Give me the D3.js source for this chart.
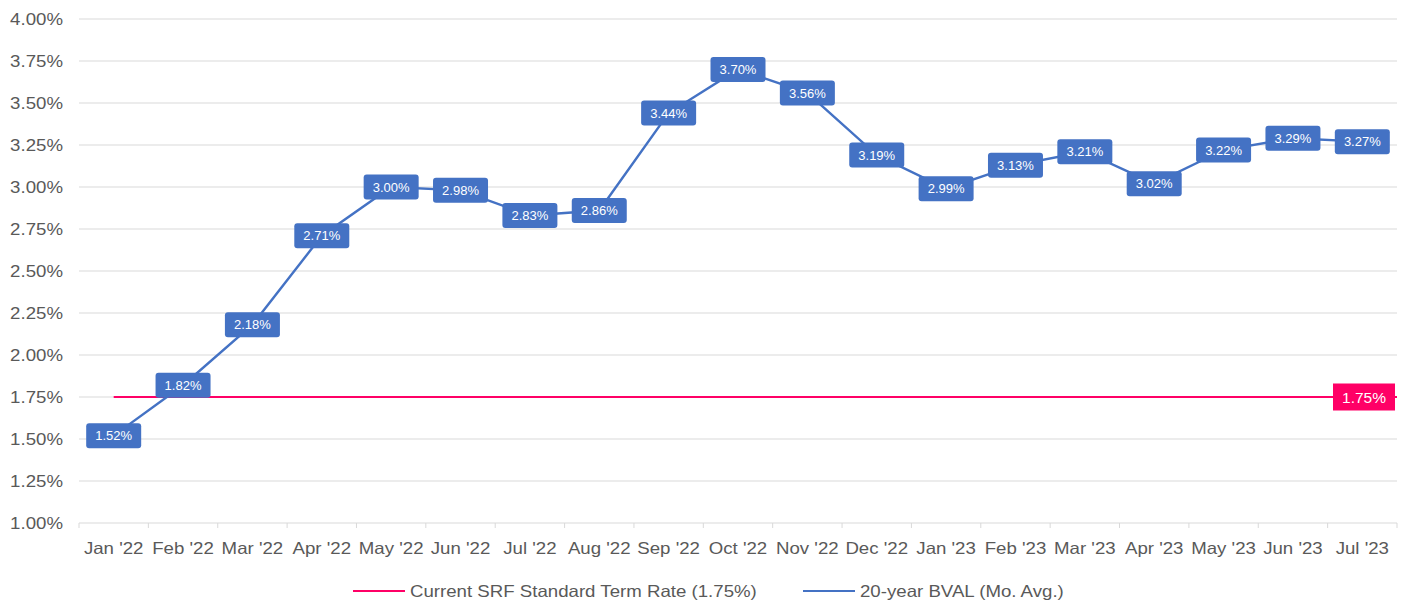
<!DOCTYPE html>
<html>
  <head>
    <meta charset="utf-8" />
    <script src="https://d3js.org/d3.v7.min.js"></script>
    <style>
        body {margin: 0; background: #fff;}
        text {font-family: "Liberation Sans", Arial, sans-serif;}
    </style>
  </head>
  <body>
    <svg id="viz"></svg>
    <script>
        // chart values
        var months = ["Jan '22","Feb '22","Mar '22","Apr '22","May '22","Jun '22","Jul '22","Aug '22","Sep '22","Oct '22","Nov '22","Dec '22",
                      "Jan '23","Feb '23","Mar '23","Apr '23","May '23","Jun '23","Jul '23"];
        var bval = [1.52,1.82,2.18,2.71,3.00,2.98,2.83,2.86,3.44,3.70,3.56,3.19,2.99,3.13,3.21,3.02,3.22,3.29,3.27];
        var srfRate = 1.75;
        var yTicks = [1.00,1.25,1.50,1.75,2.00,2.25,2.50,2.75,3.00,3.25,3.50,3.75,4.00];
        var seriesNames = ["Current SRF Standard Term Rate (1.75%)", "20-year BVAL (Mo. Avg.)"];

        var width = 1403, height = 603;
        var margin = {left: 79, right: 6, top: 19, bottom: 80};
        var blue = "#4472C4", pink = "#FF0066";
        var axisFont = 16.5, stretch = 1.13;

        var svg = d3.select("#viz").attr("width", width).attr("height", height);

        var x = d3.scaleBand().domain(months)
            .range([margin.left, width - margin.right]);
        var y = d3.scaleLinear().domain([1, 4])
            .range([height - margin.bottom, margin.top]);

        // widen the axis / legend text a little, the original font is wider
        function widen(sel) {
            sel.each(function() {
                var w = this.getComputedTextLength();
                d3.select(this).attr("textLength", w * stretch).attr("lengthAdjust", "spacingAndGlyphs");
            });
        }

        // gridlines
        svg.append("g").selectAll("line")
            .data(yTicks.slice(1))
            .enter().append("line")
            .attr("x1", margin.left).attr("x2", width - margin.right)
            .attr("y1", function(d){ return y(d); })
            .attr("y2", function(d){ return y(d); })
            .attr("stroke", "#d9d9d9").attr("stroke-width", 1);

        // y axis labels
        svg.append("g").selectAll("text")
            .data(yTicks)
            .enter().append("text")
            .attr("x", 63)
            .attr("y", function(d){ return y(d); })
            .attr("dy", "0.35em")
            .attr("text-anchor", "end")
            .attr("font-size", axisFont)
            .attr("fill", "#595959")
            .text(function(d){ return d.toFixed(2) + "%"; })
            .call(widen);

        // x axis
        var xAxis = svg.append("g")
            .attr("transform", "translate(0," + y(1) + ")");
        xAxis.append("line")
            .attr("x1", margin.left).attr("x2", width - margin.right)
            .attr("stroke", "#d9d9d9");
        var edges = months.map(function(m){ return x(m); }).concat([x(months[months.length-1]) + x.bandwidth()]);
        xAxis.selectAll(".tk").data(edges).enter().append("line")
            .attr("x1", function(d){ return d; }).attr("x2", function(d){ return d; })
            .attr("y1", 0).attr("y2", 5)
            .attr("stroke", "#d9d9d9");
        xAxis.selectAll("text").data(months).enter().append("text")
            .attr("x", function(d){ return x(d) + x.bandwidth()/2; })
            .attr("y", 31)
            .attr("text-anchor", "middle")
            .attr("font-size", axisFont)
            .attr("fill", "#595959")
            .text(function(d){ return d; })
            .call(widen);

        var cx = function(i){ return x(months[i]) + x.bandwidth()/2; };

        // SRF line
        svg.append("line")
            .attr("x1", cx(0)).attr("x2", width - margin.right)
            .attr("y1", y(srfRate)).attr("y2", y(srfRate))
            .attr("stroke", pink).attr("stroke-width", 2.2);
        var srfLab = svg.append("g")
            .attr("transform", "translate(" + (width - margin.right - 33) + "," + y(srfRate) + ")");
        srfLab.append("rect").attr("x", -31).attr("y", -13.5).attr("width", 62).attr("height", 27).attr("fill", pink);
        srfLab.append("text").attr("text-anchor", "middle").attr("dy", "0.36em")
            .attr("font-size", 15.5).attr("fill", "#fff").text(srfRate.toFixed(2) + "%");

        // BVAL line
        var line = d3.line()
            .x(function(d, i){ return cx(i); })
            .y(function(d){ return y(d); });
        svg.append("path").datum(bval)
            .attr("d", line)
            .attr("fill", "none")
            .attr("stroke", blue)
            .attr("stroke-width", 2.4);

        var labs = svg.append("g").selectAll("g")
            .data(bval).enter().append("g")
            .attr("transform", function(d, i){ return "translate(" + cx(i) + "," + y(d) + ")"; });
        labs.append("rect")
            .attr("x", -27.5).attr("y", -12.5).attr("width", 55).attr("height", 25)
            .attr("rx", 3).attr("fill", blue);
        labs.append("text")
            .attr("text-anchor", "middle").attr("dy", "0.36em")
            .attr("font-size", 13).attr("fill", "#fff")
            .text(function(d){ return d.toFixed(2) + "%"; });

        // legend
        var legend = svg.append("g").attr("transform", "translate(0,591)");
        var legX = [353, 803];
        var legC = [pink, blue];
        seriesNames.forEach(function(name, i){
            legend.append("line").attr("x1", legX[i]).attr("x2", legX[i] + 52)
                .attr("stroke", legC[i]).attr("stroke-width", 2.2);
            legend.append("text").attr("x", legX[i] + 57).attr("dy", "0.35em")
                .attr("font-size", axisFont).attr("fill", "#595959").text(name)
                .call(widen);
        });
    </script>
  </body>
</html>
